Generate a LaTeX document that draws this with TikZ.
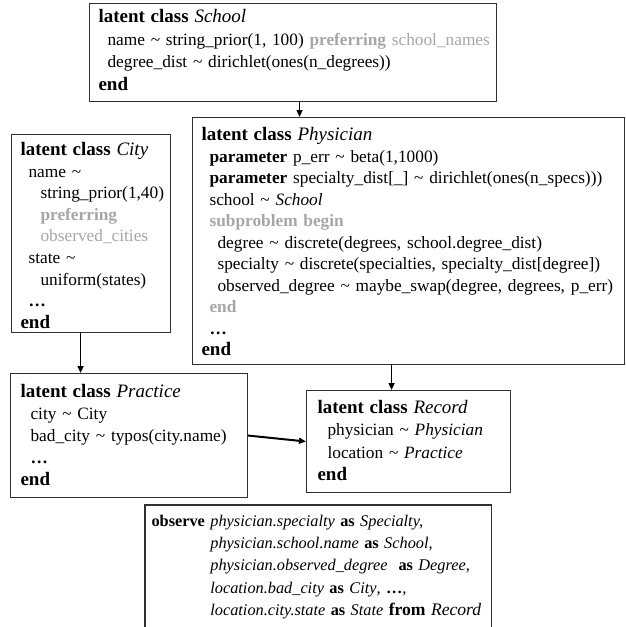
\documentclass[tikz,border=0pt]{standalone}
\usepackage{fontspec}
\setmainfont{Liberation Serif}
\usetikzlibrary{arrows.meta}
\definecolor{lightgr}{HTML}{A6A6A6}
\definecolor{edge}{HTML}{303030}
\newcommand{\kw}[1]{\textbf{#1}}
\newcommand{\gr}[1]{\textcolor{lightgr}{#1}}
\newcommand{\tld}{\textasciitilde{}}
\newcommand{\ttl}[1]{{\fontsize{19}{22}\selectfont #1}}
\newcommand{\topst}[1]{\rule{0pt}{#1pt}}
\newcommand{\botst}[1]{\rule[-#1pt]{0pt}{#1pt}}
\newcommand{\ind}[1]{\hspace*{#1pt}}
\begin{document}
\begin{tikzpicture}[x=1pt,y=-1pt,
  box/.style={draw=edge, line width=1.1pt, anchor=north west, align=left,
    inner xsep=9pt, inner ysep=0pt},
  conn/.style={line width=1.6pt, black, -{Triangle[length=7pt,width=6pt]}}]
\useasboundingbox (0,0) rectangle (626,627);
% School
\node[box, text width=389pt, font=\fontsize{17.3}{22.7}\selectfont] (school) at (89,3)
 {\topst{19}\ttl{\kw{latent class} \textit{School}}\\
  \mbox{\ind{9}name \tld\ string\_prior(1, 100) \gr{\kw{preferring} school\_names}}\\
  \ind{9}degree\_dist \tld\ dirichlet(ones(n\_degrees))\\
  \ttl{\kw{end}}\botst{11}};
% City
\node[box, text width=141pt, font=\fontsize{17.3}{21.6}\selectfont] (city) at (11,134)
 {\topst{21}\ttl{\kw{latent class} \textit{City}}\\
  \ind{8}name \tld\\
  \ind{20}string\_prior(1,40)\\
  \ind{20}\gr{\kw{preferring}}\\
  \ind{20}\gr{observed\_cities}\\
  \ind{8}state \tld\\
  \ind{20}uniform(states)\\
  \ind{8}\kw{…}\\
  \ttl{\kw{end}}\botst{4}};
% Physician
\node[box, text width=414pt, font=\fontsize{17.3}{21.5}\selectfont] (phys) at (192,117)
 {\topst{23}\ttl{\kw{latent class} \textit{Physician}}\\
  \ind{8}\kw{parameter} p\_err \tld\ beta(1,1000)\\
  \ind{8}\kw{parameter} specialty\_dist[\_] \tld\ dirichlet(ones(n\_specs)))\\
  \ind{8}school \tld\ \textit{School}\\
  \ind{8}\gr{\kw{subproblem begin}}\\
  \mbox{\ind{16}degree \tld\ discrete(degrees, school.degree\_dist)}\\
  \mbox{\ind{16}specialty \tld\ discrete(specialties, specialty\_dist[degree])}\\
  \mbox{\ind{16}observed\_degree \tld\ maybe\_swap(degree, degrees, p\_err)}\\
  \ind{8}\gr{\kw{end}}\\
  \ind{8}\kw{…}\\
  \ttl{\kw{end}}\botst{9}};
% Practice
\node[box, inner xsep=10pt, text width=217pt, font=\fontsize{17.3}{22}\selectfont] (prac) at (10,373)
 {\topst{24}\ttl{\kw{latent class} \textit{Practice}}\\
  \ind{10}city \tld\ City\\
  \mbox{\ind{10}bad\_city \tld\ typos(city.name)}\\
  \ind{10}\kw{…}\\
  \ttl{\kw{end}}\botst{12}};
% Record
\node[box, inner xsep=11pt, text width=182pt, font=\fontsize{17.3}{22.3}\selectfont] (rec) at (306,390)
 {\topst{23}\ttl{\kw{latent class} \textit{Record}}\\
  \ind{10}physician \tld\ \textit{Physician}\\
  \ind{10}location \tld\ \textit{Practice}\\
  \ttl{\kw{end}}\botst{12}};
% Observe
\node[box, draw=none, inner xsep=6pt, text width=333pt, font=\fontsize{16.3}{22.2}\selectfont] (obs) at (145,505)
 {\topst{21}\kw{observe} \textit{physician.specialty} \kw{as} \textit{Specialty,}\\
  \hphantom{\kw{observe} }\textit{physician.school.name} \kw{as} \textit{School},\\
  \hphantom{\kw{observe} }\textit{physician.observed\_degree}\ \ \kw{as} \textit{Degree},\\
  \hphantom{\kw{observe} }\textit{location.bad\_city} \kw{as} \textit{City}, \kw{…},\\
  \mbox{\hphantom{\kw{observe} }\textit{location.city.state} \kw{as} \textit{State} {\fontsize{17.6}{22}\selectfont\kw{from} \textit{Record}}}\botst{40}};
\draw[edge, line width=1.1pt] (obs.south west) -- (obs.north west) -- (obs.north east) -- (obs.south east);
% connectors
\draw[conn] ([xshift=6.5pt]school.south) -- ([xshift=6.5pt]school.south |- phys.north);
\draw[conn] ([xshift=-10.5pt]city.south) -- ([xshift=-10.5pt]city.south |- prac.north);
\draw[conn] ([xshift=-17pt]phys.south) -- ([xshift=-17pt]phys.south |- rec.north);
\draw[conn, line width=2pt] (prac.east) -- (rec.west);
\end{tikzpicture}
\end{document}
